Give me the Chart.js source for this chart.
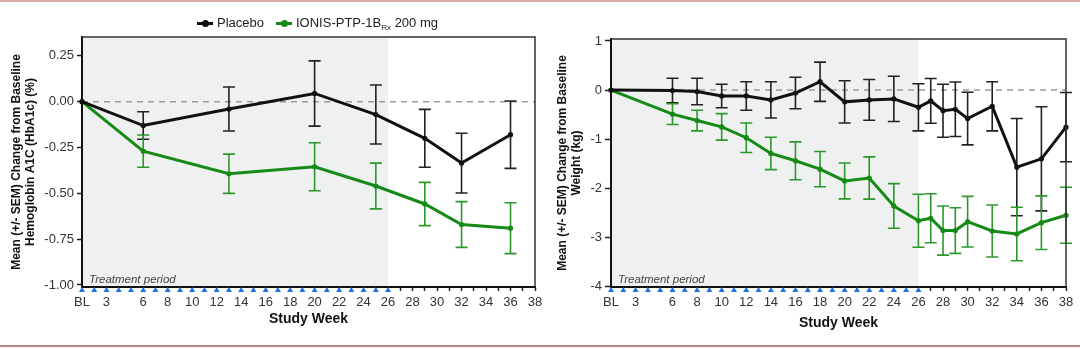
<!DOCTYPE html>
<html>
<head>
<meta charset="utf-8">
<script src="https://cdn.jsdelivr.net/npm/chart.js@4.4.1/dist/chart.umd.min.js"></script>
<style>
  body { margin: 0; background: #fff; font-family: "Liberation Sans", Arial, sans-serif; }
  #wrap { position: relative; width: 1080px; height: 349px; overflow: hidden; }
  .rule { position: absolute; left: 0; width: 1080px; height: 2px; }
  .panel { position: absolute; top: 0; height: 349px; }
  .legend { position: absolute; top: 14px; left: 197px; font-size: 13px; color: #222; white-space: nowrap; line-height: 18px; }
  .key { display: inline-block; position: relative; width: 16px; height: 3px; vertical-align: middle; margin-right: 4px; }
  .key::after { content: ''; position: absolute; left: 5px; top: -2px; width: 7px; height: 7px; border-radius: 50%; background: inherit; }
  .legend sub { font-size: 8px; vertical-align: -3px; line-height: 0; }
</style>
</head>
<body>
<div id="wrap">
  <div class="rule" style="top:0; background:#d9abab;"></div>
  <div class="panel" style="left:0; width:550px;"><canvas id="hba1c" width="550" height="349"></canvas></div>
  <div class="panel" style="left:540px; width:540px;"><canvas id="weight" width="540" height="349"></canvas></div>
  <div class="legend">
    <span class="key" style="background:#111;"></span>Placebo<span style="display:inline-block;width:12px;"></span><span class="key" style="background:#168a16;"></span>IONIS-PTP-1B<sub>Rx</sub> 200 mg
  </div>
  <div class="rule" style="top:345px; background:#b98585;"></div>
</div>
<script>
// HbA1c change from baseline (%)
const hbWeeks = [1, 6, 13, 20, 25, 29, 32, 36];
const hbPlacebo = [0, -0.13, -0.04, 0.045, -0.07, -0.20, -0.335, -0.18];
const hbPlaceboSem = [0, 0.075, 0.12, 0.178, 0.161, 0.158, 0.163, 0.184];
const hbIonis = [0, -0.27, -0.393, -0.355, -0.46, -0.558, -0.67, -0.69];
const hbIonisSem = [0, 0.088, 0.107, 0.131, 0.125, 0.118, 0.125, 0.139];
const hbTicks = [0.25, 0, -0.25, -0.5, -0.75, -1];

// body weight change from baseline (kg)
const wtWeeks = [1, 6, 8, 10, 12, 14, 16, 18, 20, 22, 24, 26, 27, 28, 29, 30, 32, 34, 36, 38];
const wtPlacebo = [0, -0.01, -0.03, -0.12, -0.12, -0.2, -0.06, 0.17, -0.24, -0.2, -0.18, -0.35, -0.22, -0.42, -0.39, -0.58, -0.33, -1.57, -1.4, -0.755];
const wtPlaceboSem = [0, 0.25, 0.27, 0.24, 0.29, 0.37, 0.32, 0.4, 0.43, 0.415, 0.46, 0.48, 0.455, 0.54, 0.555, 0.535, 0.5, 0.99, 1.06, 0.705];
const wtIonis = [0, -0.49, -0.62, -0.75, -0.97, -1.29, -1.44, -1.61, -1.85, -1.79, -2.36, -2.66, -2.61, -2.86, -2.86, -2.68, -2.87, -2.93, -2.7, -2.55];
const wtIonisSem = [0, 0.21, 0.21, 0.27, 0.3, 0.33, 0.385, 0.36, 0.365, 0.43, 0.455, 0.54, 0.5, 0.5, 0.465, 0.515, 0.53, 0.545, 0.545, 0.57];
const wtTicks = [1, 0, -1, -2, -3, -4];

// x axis: a tick every week, labelled at these weeks only
const tickWeeks = [1, 3, 6, 8, 10, 12, 14, 16, 18, 20, 22, 24, 26, 28, 30, 32, 34, 36, 38];
const tickText = ['BL', '3', '6', '8', '10', '12', '14', '16', '18', '20', '22', '24', '26', '28', '30', '32', '34', '36', '38'];
const dosingWeeks = [1, 2, 3, 4, 5, 6, 7, 8, 9, 10, 11, 12, 13, 14, 15, 16, 17, 18, 19, 20, 21, 22, 23, 24, 25, 26];

const FONT = '"Liberation Sans", Arial, sans-serif';
const BLACK = '#111';
const GREEN = '#168a16';

const panelDecor = {
  id: 'panelDecor',
  beforeDraw(chart) {
    const { ctx, chartArea: a, scales: { x } } = chart;
    const x0 = x.getPixelForValue(dosingWeeks[0]);
    const x1 = x.getPixelForValue(dosingWeeks[dosingWeeks.length - 1]);
    ctx.save();
    ctx.fillStyle = '#eff1f0';
    ctx.fillRect(x0, a.top, x1 - x0, a.bottom - a.top);
    ctx.restore();
  },
  beforeDatasetsDraw(chart) {
    const { ctx, chartArea: a, scales: { x, y } } = chart;
    ctx.save();
    // baseline reference
    const y0 = y.getPixelForValue(0);
    ctx.strokeStyle = '#9a9a9a';
    ctx.lineWidth = 1.5;
    ctx.setLineDash([6, 5]);
    ctx.beginPath();
    ctx.moveTo(a.left, y0);
    ctx.lineTo(a.right, y0);
    ctx.stroke();
    ctx.setLineDash([]);
    // SEM whiskers
    chart.data.datasets.forEach(ds => {
      if (!ds.sem) return;
      ctx.strokeStyle = ds.errorColor;
      ctx.lineWidth = 1.6;
      ds.data.forEach((p, i) => {
        const s = ds.sem[i];
        if (!s) return;
        const px = x.getPixelForValue(p.x);
        const top = y.getPixelForValue(p.y + s);
        const bot = y.getPixelForValue(p.y - s);
        ctx.beginPath();
        ctx.moveTo(px, top); ctx.lineTo(px, bot);
        ctx.moveTo(px - 6, top); ctx.lineTo(px + 6, top);
        ctx.moveTo(px - 6, bot); ctx.lineTo(px + 6, bot);
        ctx.stroke();
      });
    });
    ctx.restore();
  },
  afterDatasetsDraw(chart) {
    const { ctx, chartArea: a, scales: { x } } = chart;
    ctx.save();
    // top and right frame
    ctx.strokeStyle = '#333';
    ctx.lineWidth = 1.5;
    ctx.beginPath();
    ctx.moveTo(a.left, a.top);
    ctx.lineTo(a.right, a.top);
    ctx.lineTo(a.right, a.bottom);
    ctx.stroke();
    // dosing markers
    ctx.fillStyle = '#1f6fe8';
    dosingWeeks.forEach(w => {
      const px = x.getPixelForValue(w);
      ctx.beginPath();
      ctx.moveTo(px, a.bottom);
      ctx.lineTo(px + 3, a.bottom + 5);
      ctx.lineTo(px - 3, a.bottom + 5);
      ctx.closePath();
      ctx.fill();
    });
    ctx.fillStyle = '#444';
    ctx.font = 'italic 11.5px ' + FONT;
    ctx.textBaseline = 'alphabetic';
    ctx.fillText('Treatment period', a.left + 7, a.bottom - 4);
    ctx.restore();
  }
};

function series(weeks, vals) {
  return weeks.map((w, i) => ({ x: w, y: vals[i] }));
}

function makePanel(id, o) {
  const line = (label, vals, sem, color, errColor) => ({
    label,
    data: series(o.weeks, vals),
    sem,
    errorColor: errColor,
    borderColor: color,
    backgroundColor: color,
    borderWidth: 3,
    pointRadius: 2.6,
    pointBorderWidth: 0,
    pointBackgroundColor: color,
    tension: 0,
    clip: false
  });
  return new Chart(document.getElementById(id), {
    type: 'line',
    data: {
      datasets: [
        line('Placebo', o.placebo, o.placeboSem, BLACK, '#222'),
        line('IONIS-PTP-1B Rx 200 mg', o.ionis, o.ionisSem, GREEN, '#2c982c')
      ]
    },
    options: {
      responsive: false,
      animation: false,
      layout: { padding: { top: o.padTop, right: o.padRight, left: 0, bottom: 17 } },
      plugins: { legend: { display: false }, tooltip: { enabled: false } },
      scales: {
        x: {
          type: 'linear',
          min: 1,
          max: 38,
          afterFit: s => { s.height = 45; },
          afterBuildTicks: s => {
            s.ticks = Array.from({ length: 38 }, (_, i) => ({ value: i + 1 }));
          },
          ticks: {
            autoSkip: false,
            maxRotation: 0,
            padding: 4,
            color: '#333',
            font: { family: FONT, size: 13 },
            callback: v => {
              const k = tickWeeks.indexOf(v);
              return k >= 0 ? tickText[k] : '';
            }
          },
          grid: {
            drawOnChartArea: false,
            tickLength: 4,
            tickWidth: 1.5,
            tickColor: c => (c.tick && c.tick.value > 26 ? '#222' : 'rgba(0,0,0,0)')
          },
          border: { color: '#111', width: 2 },
          title: {
            display: true,
            text: 'Study Week',
            color: '#111',
            font: { family: FONT, size: 14, weight: 'bold' },
            padding: { top: 0, bottom: o.xTitlePad }
          }
        },
        y: {
          min: o.yMin,
          max: o.yMax,
          afterFit: s => { s.width = o.yWidth; },
          afterBuildTicks: s => {
            s.ticks = o.yTicks.map(v => ({ value: v }));
          },
          ticks: {
            padding: 3,
            color: '#333',
            font: { family: FONT, size: 13 },
            callback: o.yFmt
          },
          grid: {
            drawOnChartArea: false,
            tickLength: o.yTickLen,
            tickWidth: 1.5,
            tickColor: '#222'
          },
          border: { color: '#111', width: 2 },
          title: {
            display: true,
            text: o.yTitle,
            color: '#111',
            font: { family: FONT, size: 12, weight: 'bold', lineHeight: '14px' },
            padding: { top: o.yTitlePad, bottom: 0 }
          }
        }
      }
    },
    plugins: [panelDecor]
  });
}

makePanel('hba1c', {
  weeks: hbWeeks,
  placebo: hbPlacebo, placeboSem: hbPlaceboSem,
  ionis: hbIonis, ionisSem: hbIonisSem,
  yTicks: hbTicks, yMin: -1.011, yMax: 0.353,
  yFmt: v => v.toFixed(2),
  yTitle: ['Mean (+/- SEM) Change from Baseline', 'Hemoglobin A1C (HbA1c) (%)'],
  padTop: 37, padRight: 15, yWidth: 82, yTickLen: 5,
  yTitlePad: 10, xTitlePad: 4.6
});

makePanel('weight', {
  weeks: wtWeeks,
  placebo: wtPlacebo, placeboSem: wtPlaceboSem,
  ionis: wtIonis, ionisSem: wtIonisSem,
  yTicks: wtTicks, yMin: -4.01, yMax: 1.04,
  yFmt: v => String(v),
  yTitle: ['Mean (+/- SEM) Change from Baseline', 'Weight (kg)'],
  padTop: 39, padRight: 14, yWidth: 71, yTickLen: 6,
  yTitlePad: 16, xTitlePad: 0.6
});
</script>
</body>
</html>
